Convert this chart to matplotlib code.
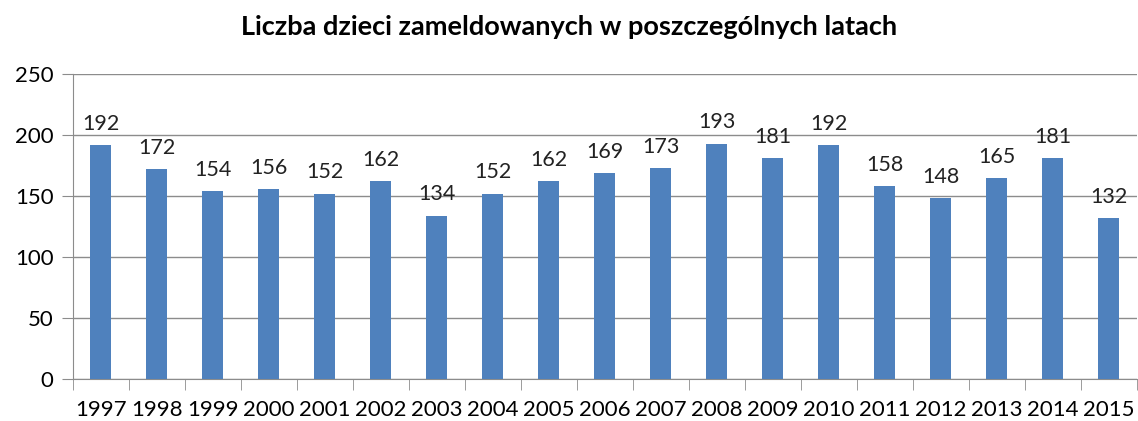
import numpy as np
import matplotlib
matplotlib.use('Agg')
import matplotlib.pyplot as plt

# dane
lata = ['1997', '1998', '1999', '2000', '2001', '2002', '2003', '2004', '2005', '2006',
        '2007', '2008', '2009', '2010', '2011', '2012', '2013', '2014', '2015']
dzieci = [192, 172, 154, 156, 152, 162, 134, 152, 162, 169,
          173, 193, 181, 192, 158, 148, 165, 181, 132]

plt.rcParams['font.family'] = ['Lato', 'DejaVu Sans']

fig = plt.figure(figsize=(11.38, 4.21), dpi=100)
ax = fig.add_axes([0.0641, 0.0998, 0.9350, 0.7244])

x = np.arange(len(lata))
ax.bar(x, dzieci, width=0.375, color='#4F81BD', zorder=3)

for xi, v in zip(x, dzieci):
    ax.annotate(str(v), (xi, v), xytext=(0, 8), textcoords='offset points',
                ha='center', va='bottom', fontsize=15.5, color='#222222')

ax.set_xlim(-0.5, len(lata) - 0.5)
ax.set_ylim(0, 250)
ax.set_yticks(range(0, 251, 50))
ax.yaxis.grid(True, color='#8c8c8c', linewidth=1)

# podzialki x na granicach kategorii
ax.set_xticks(x)
ax.set_xticklabels(lata, fontsize=16)
ax.tick_params(axis='x', length=0, pad=15)
ax.set_xticks(np.arange(-0.5, len(lata)), minor=True)
ax.tick_params(axis='x', which='minor', length=8, color='#8c8c8c')
ax.tick_params(axis='y', length=8, color='#8c8c8c', labelsize=16, pad=6)

for s in ['top', 'right']:
    ax.spines[s].set_visible(False)
for s in ['left', 'bottom']:
    ax.spines[s].set_color('#8c8c8c')

fig.text(0.5, 0.935, 'Liczba dzieci zameldowanych w poszczególnych latach',
         ha='center', va='center', fontsize=19.5, fontweight='bold')

fig.savefig('out.png', dpi=100)
